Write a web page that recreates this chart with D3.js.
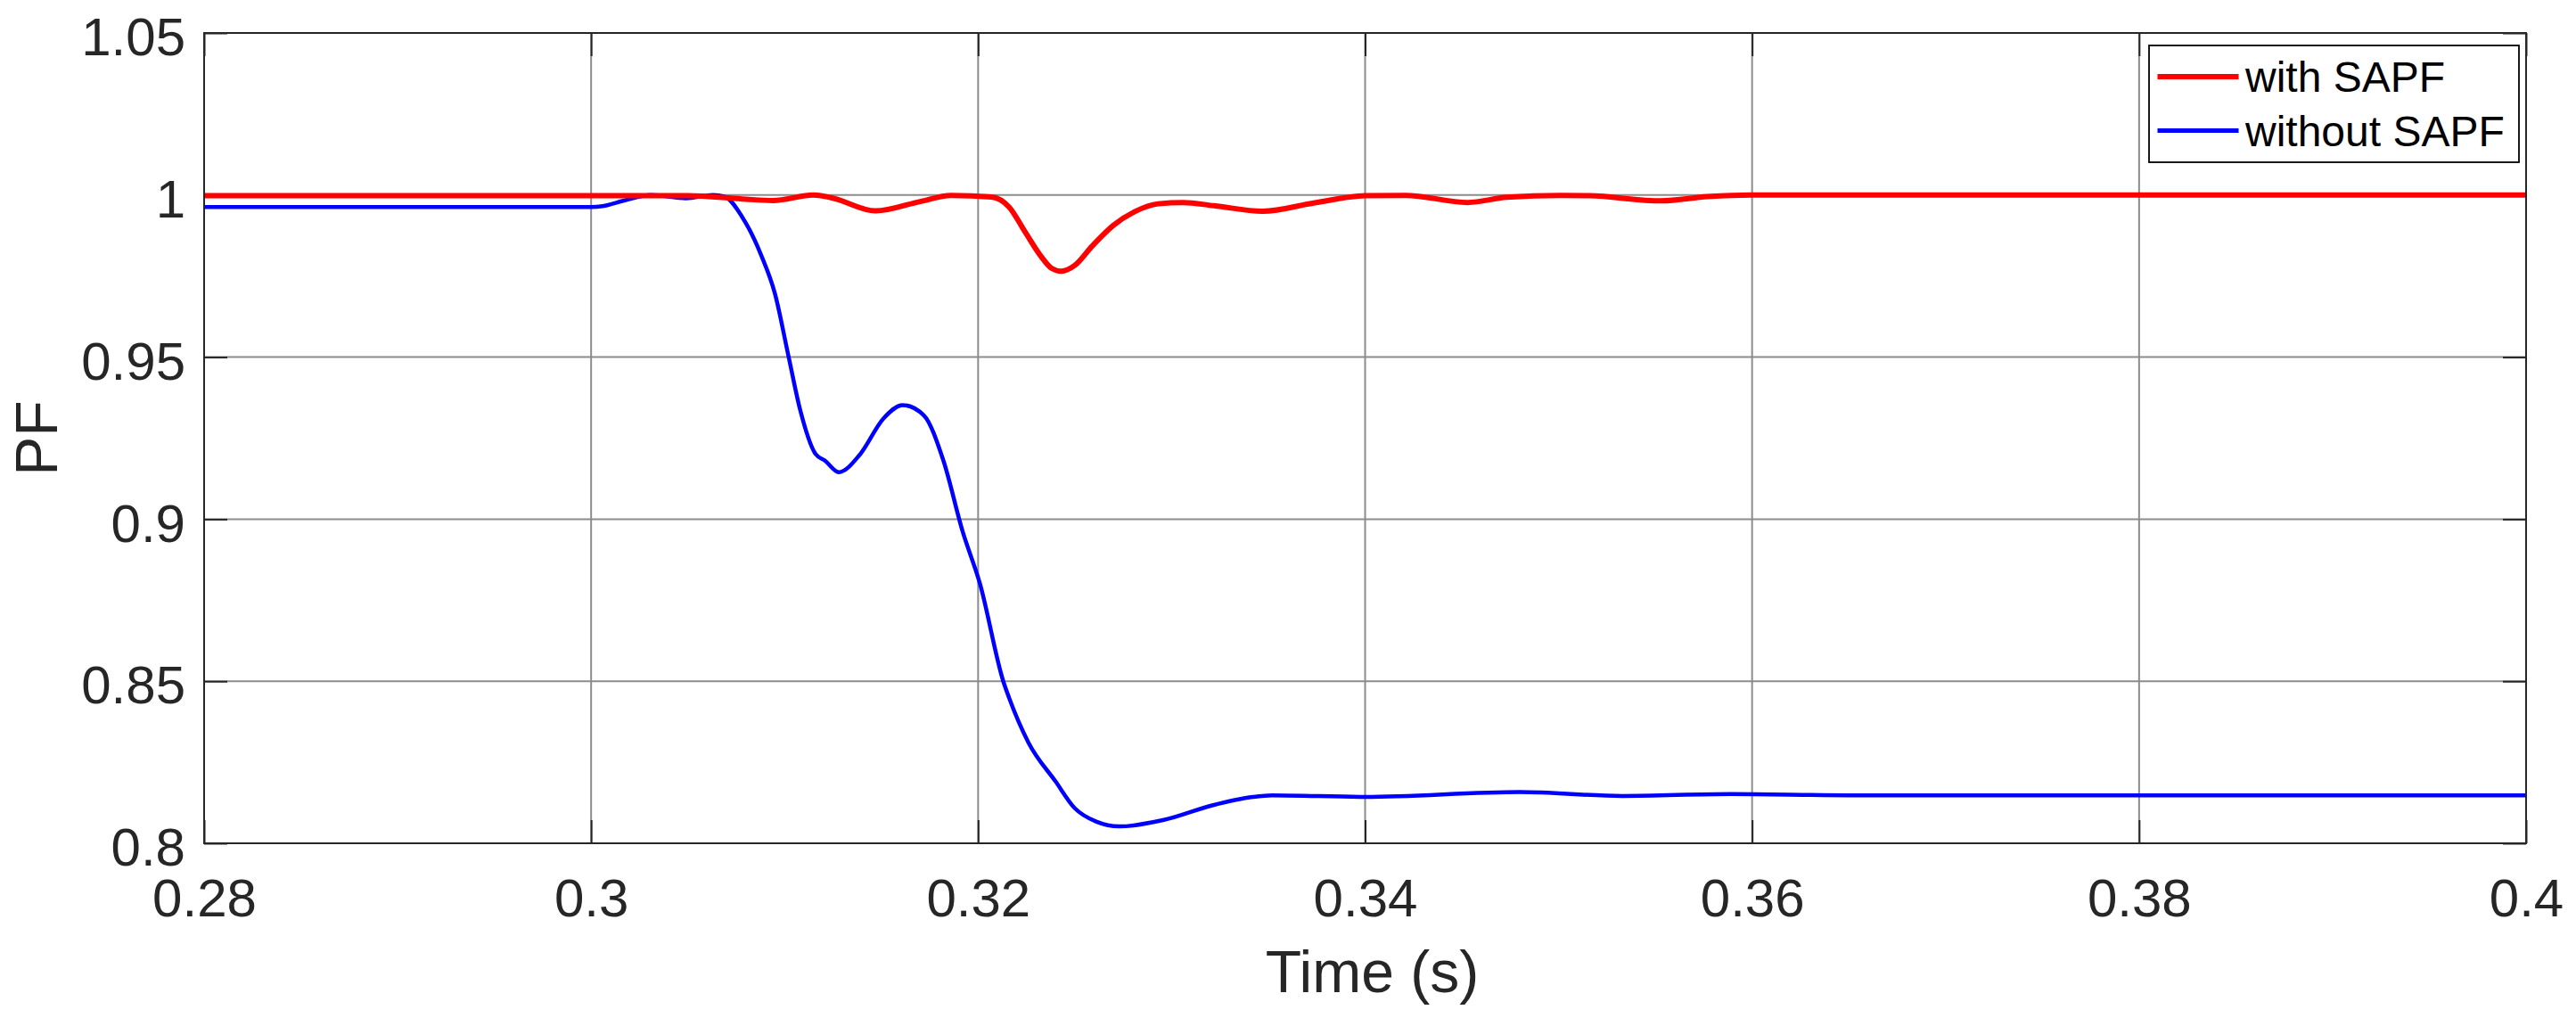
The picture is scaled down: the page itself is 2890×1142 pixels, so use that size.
<!DOCTYPE html>
<meta charset="utf-8">
<title>PF</title>
<style>
body { margin: 0; background: #fff; }
svg text { font-family: "Liberation Sans", Arial, Helvetica, sans-serif; }
.tick text { fill: #262626; font-size: 60px; }
.tick line { stroke: #262626; stroke-width: 2; }
.grid line { stroke: #8c8c8c; stroke-width: 2; }
</style>
<svg width="2890" height="1142"></svg>
<script src="https://d3js.org/d3.v7.min.js"></script>
<script>

// time (s) and PF samples
var tWith = [0.28, 0.305, 0.3078, 0.3094, 0.3115, 0.3124, 0.3147, 0.317, 0.3186, 0.3207,
             0.3216, 0.3224, 0.3232, 0.3238, 0.3243, 0.325, 0.3259, 0.327, 0.3281, 0.3293,
             0.3306, 0.3322, 0.3347, 0.3374, 0.34, 0.3421, 0.3453, 0.3473, 0.3501, 0.3516,
             0.3553, 0.3577, 0.36, 0.4];
var pfWith = [0.9998, 0.9998, 0.9988, 0.9983, 1.0, 0.9992, 0.9951, 0.998, 0.9999, 0.9994,
              0.9963, 0.9889, 0.9815, 0.9774, 0.9765, 0.9783, 0.9843, 0.9907, 0.9949, 0.9973,
              0.9977, 0.9967, 0.995, 0.9976, 0.9998, 0.9999, 0.9977, 0.9993, 0.9999, 0.9998,
              0.9982, 0.9995, 1.0, 1.0];

var tWithout = [0.28, 0.3, 0.3006, 0.3017, 0.3031, 0.3049, 0.3063, 0.3069, 0.3078, 0.3088,
                0.3095, 0.3102, 0.3108, 0.3116, 0.3121, 0.3128, 0.3139, 0.3151, 0.3161, 0.3172,
                0.3182, 0.3192, 0.3201, 0.3213, 0.3216, 0.3226, 0.324, 0.325, 0.3261, 0.3273,
                0.3296, 0.3321, 0.3342, 0.3352, 0.34, 0.348, 0.3533, 0.3589, 0.365, 0.4];
var pfWithout = [0.9963, 0.9963, 0.9966, 0.9983, 1.0, 0.999, 1.0, 0.9995, 0.9933, 0.9813,
                 0.9696, 0.9503, 0.9338, 0.9201, 0.918, 0.9145, 0.92, 0.931, 0.9352, 0.932,
                 0.9182, 0.8962, 0.88, 0.85, 0.8449, 0.8311, 0.8191, 0.8108, 0.8067, 0.8052,
                 0.8072, 0.8117, 0.8143, 0.8148, 0.8143, 0.8158, 0.8146, 0.8152, 0.8148, 0.8148];

var xTicks = [0.28, 0.3, 0.32, 0.34, 0.36, 0.38, 0.4];
var yTicks = [0.8, 0.85, 0.9, 0.95, 1, 1.05];
var seriesNames = ["with SAPF", "without SAPF"];
var seriesColors = ["#ff0000", "#0000ff"];

var svg = d3.select("svg"),
    margin = {top: 37, right: 56, bottom: 196, left: 229},
    width = +svg.attr("width") - margin.left - margin.right,
    height = +svg.attr("height") - margin.top - margin.bottom;

var x = d3.scaleLinear().domain([0.28, 0.4]).range([0, width]),
    y = d3.scaleLinear().domain([0.8, 1.05]).range([height, 0]);

var g = svg.append("g")
    .attr("transform", "translate(" + margin.left + "," + margin.top + ")");

// grid
g.append("g").attr("class", "grid")
  .selectAll("line").data(xTicks.slice(1, -1)).enter().append("line")
  .attr("x1", function(d) { return x(d); }).attr("x2", function(d) { return x(d); })
  .attr("y1", 0).attr("y2", height);
g.append("g").attr("class", "grid")
  .selectAll("line").data(yTicks.slice(1, -1)).enter().append("line")
  .attr("x1", 0).attr("x2", width)
  .attr("y1", function(d) { return y(d); }).attr("y2", function(d) { return y(d); });

var tl = 26;
var fmt = function(d) { return String(d); };

var xa = g.append("g").attr("transform", "translate(0," + height + ")")
  .call(d3.axisBottom(x).tickValues(xTicks).tickFormat(fmt).tickSizeInner(-tl).tickSizeOuter(0));
xa.selectAll("text").attr("y", 82).attr("dy", null);
g.append("g")
  .call(d3.axisTop(x).tickValues(xTicks).tickFormat("").tickSizeInner(-tl).tickSizeOuter(0));

var ya = g.append("g")
  .call(d3.axisLeft(y).tickValues(yTicks).tickFormat(fmt).tickSizeInner(-tl).tickSizeOuter(0));
ya.selectAll("text").attr("x", -21).attr("dy", "0.41em");
g.append("g").attr("transform", "translate(" + width + ",0)")
  .call(d3.axisRight(y).tickValues(yTicks).tickFormat("").tickSizeInner(-tl).tickSizeOuter(0));

g.selectAll(".domain").remove();
g.selectAll(".tick text").attr("font-family", null).attr("font-size", null);

// lines
var line = d3.line()
  .x(function(d) { return x(d[0]); })
  .y(function(d) { return y(d[1]); })
  .curve(d3.curveMonotoneX);

var blueData = d3.zip(tWithout, pfWithout),
    redData = d3.zip(tWith, pfWith);

g.append("path").datum(blueData)
  .attr("fill", "none").attr("stroke", seriesColors[1]).attr("stroke-width", 4.5)
  .attr("d", line);
g.append("path").datum(redData)
  .attr("fill", "none").attr("stroke", seriesColors[0]).attr("stroke-width", 6)
  .attr("d", line);

// box
g.append("rect")
  .attr("width", width).attr("height", height)
  .attr("fill", "none").attr("stroke", "#262626").attr("stroke-width", 2);

// axis labels
svg.append("text")
  .attr("x", margin.left + width / 2 + 8).attr("y", 1113)
  .attr("text-anchor", "middle").attr("font-size", 66).attr("fill", "#262626")
  .text("Time (s)");
svg.append("text")
  .attr("transform", "translate(64," + (margin.top + height / 2) + ") rotate(-90)")
  .attr("text-anchor", "middle").attr("font-size", 66).attr("fill", "#262626")
  .text("PF");

// legend
var lg = g.append("g").attr("transform", "translate(" + (width - 423) + ",14)");
lg.append("rect")
  .attr("width", 415).attr("height", 131)
  .attr("fill", "#fff").attr("stroke", "#000").attr("stroke-width", 1.8);
seriesNames.forEach(function(name, i) {
  var ly = 35 + i * 60.5;
  lg.append("line")
    .attr("x1", 9.5).attr("x2", 100.5).attr("y1", ly).attr("y2", ly)
    .attr("stroke", seriesColors[i]).attr("stroke-width", i === 0 ? 6 : 5);
  lg.append("text")
    .attr("x", 108).attr("y", ly).attr("dy", "0.36em")
    .attr("font-size", 48).attr("fill", "#000")
    .text(name);
});

</script>
